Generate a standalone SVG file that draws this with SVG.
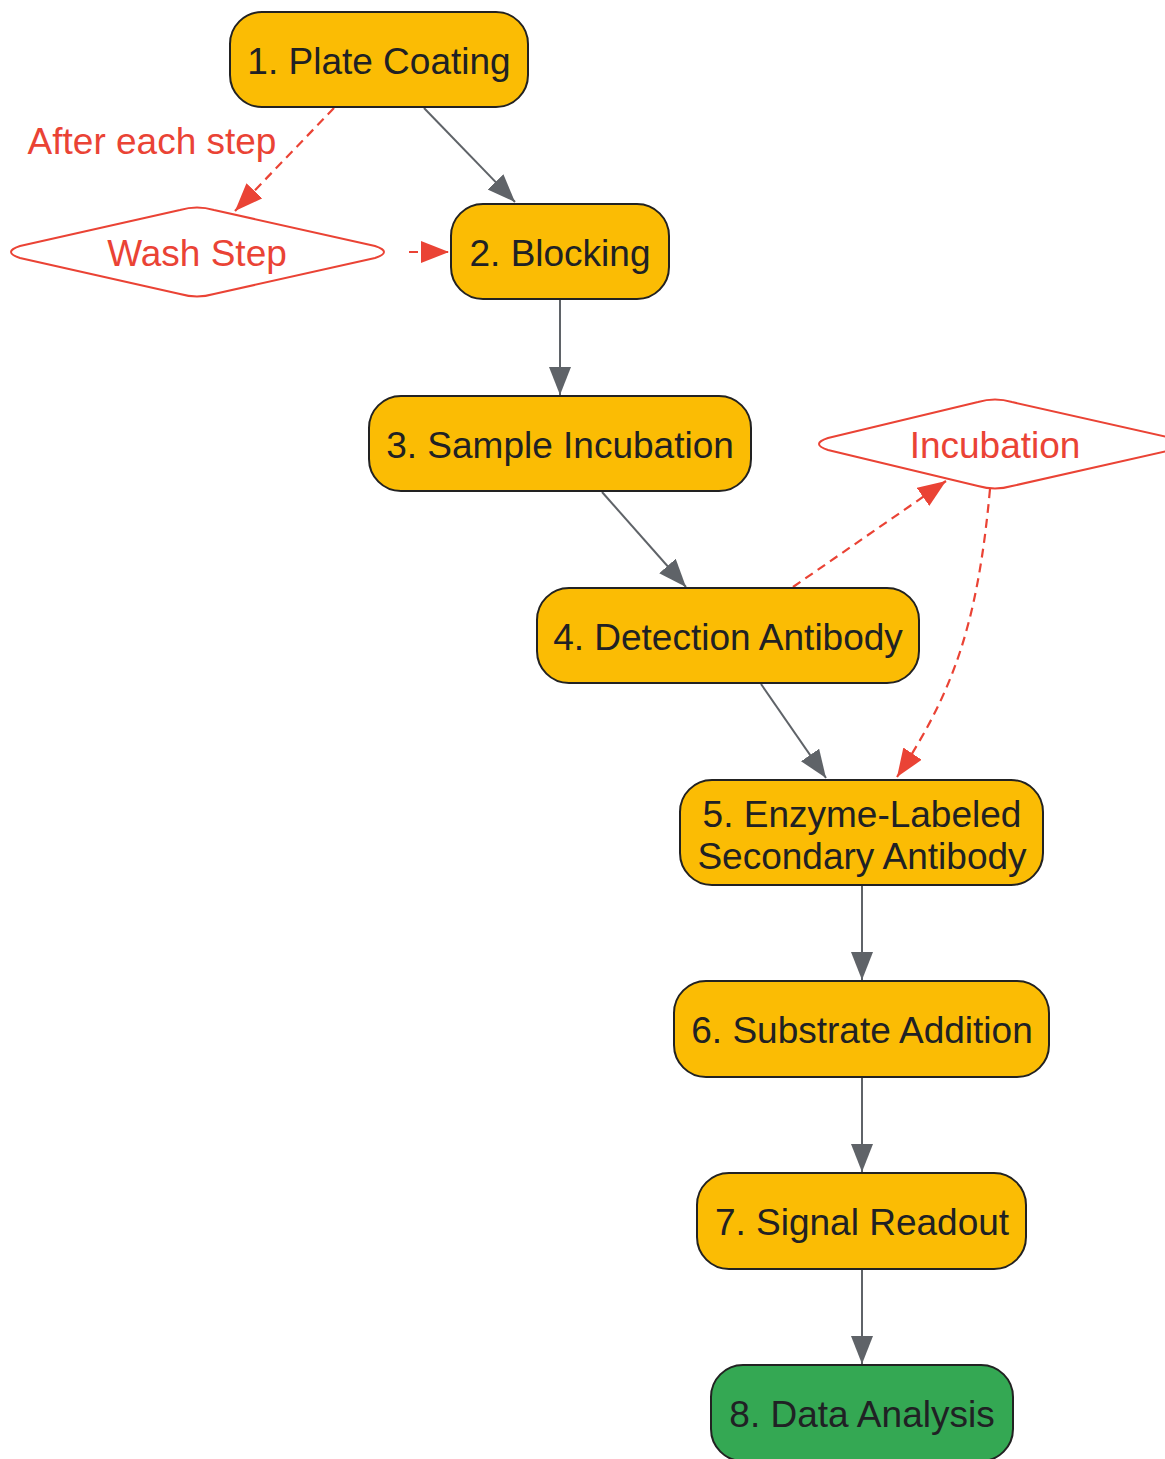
<svg xmlns="http://www.w3.org/2000/svg" width="1165" height="1459" viewBox="0 0 1165 1459">
<style>
.box{fill:#fbbc04;stroke:#222;stroke-width:2}
.green{fill:#34a853;stroke:#222;stroke-width:2}
.dia{fill:#fff;stroke:#ea4335;stroke-width:2}
.t{font-family:"Liberation Sans",Arial,sans-serif;font-size:37px;fill:#202124;text-anchor:middle}
.r{fill:#ea4335}
.e{fill:none;stroke:#5f6368;stroke-width:2}
.d{fill:none;stroke:#ea4335;stroke-width:2.2;stroke-dasharray:9,6}
</style>
<defs>
<marker id="ag" markerUnits="userSpaceOnUse" markerWidth="30" markerHeight="24" refX="28" refY="11" orient="auto"><path d="M0,0 L28,11 L0,22 Z" fill="#5f6368"/></marker>
<marker id="ar" markerUnits="userSpaceOnUse" markerWidth="30" markerHeight="24" refX="28" refY="11" orient="auto"><path d="M0,0 L28,11 L0,22 Z" fill="#ea4335"/></marker>
</defs>
<g id="connectors">
<path class="e" d="M424,108 L515,202" marker-end="url(#ag)"/>
<path class="d" d="M334,108 L235,211" marker-end="url(#ar)"/>
<path class="d" d="M409,252 L449,252" marker-end="url(#ar)"/>
<path class="e" d="M560,299 L560,395" marker-end="url(#ag)"/>
<path class="e" d="M602,492 L686,587" marker-end="url(#ag)"/>
<path class="d" d="M793,587 L946,481" marker-end="url(#ar)"/>
<path class="d" d="M990,489 C978,620 955,690 897,777" marker-end="url(#ar)"/>
<path class="e" d="M761,684 L826,778" marker-end="url(#ag)"/>
<path class="e" d="M862,885 L862,980" marker-end="url(#ag)"/>
<path class="e" d="M862,1077 L862,1172" marker-end="url(#ag)"/>
<path class="e" d="M862,1269 L862,1364" marker-end="url(#ag)"/>
<text class="t r" x="152" y="154">After each step</text>
</g>
<g id="n1"><rect class="box" x="230" y="12" width="298" height="95" rx="32"/><text class="t" x="379" y="74">1. Plate Coating</text></g>
<g id="wash"><path class="dia" d="M20,246 L180,210 Q197,205 214,210 L375,246 Q393,252 375,258 L214,294 Q197,299 180,294 L20,258 Q2,252 20,246 Z"/><text class="t r" x="197" y="266">Wash Step</text></g>
<g id="n2"><rect class="box" x="451" y="204" width="218" height="95" rx="32"/><text class="t" x="560" y="266">2. Blocking</text></g>
<g id="n3"><rect class="box" x="369" y="396" width="382" height="95" rx="32"/><text class="t" x="560" y="458">3. Sample Incubation</text></g>
<g id="incub"><path class="dia" d="M828,438 L978,402 Q995,397 1012,402 L1172,438 Q1190,444 1172,450 L1012,486 Q995,491 978,486 L828,450 Q810,444 828,438 Z"/><text class="t r" x="995" y="458">Incubation</text></g>
<g id="n4"><rect class="box" x="537" y="588" width="382" height="95" rx="32"/><text class="t" x="728" y="650">4. Detection Antibody</text></g>
<g id="n5"><rect class="box" x="680" y="780" width="363" height="105" rx="32"/><text class="t" x="862" y="827">5. Enzyme-Labeled</text><text class="t" x="862" y="869">Secondary Antibody</text></g>
<g id="n6"><rect class="box" x="674" y="981" width="375" height="96" rx="32"/><text class="t" x="862" y="1043">6. Substrate Addition</text></g>
<g id="n7"><rect class="box" x="697" y="1173" width="329" height="96" rx="32"/><text class="t" x="862" y="1235">7. Signal Readout</text></g>
<g id="n8"><rect class="green" x="711" y="1365" width="302" height="96" rx="32"/><text class="t" x="862" y="1427">8. Data Analysis</text></g>
</svg>
